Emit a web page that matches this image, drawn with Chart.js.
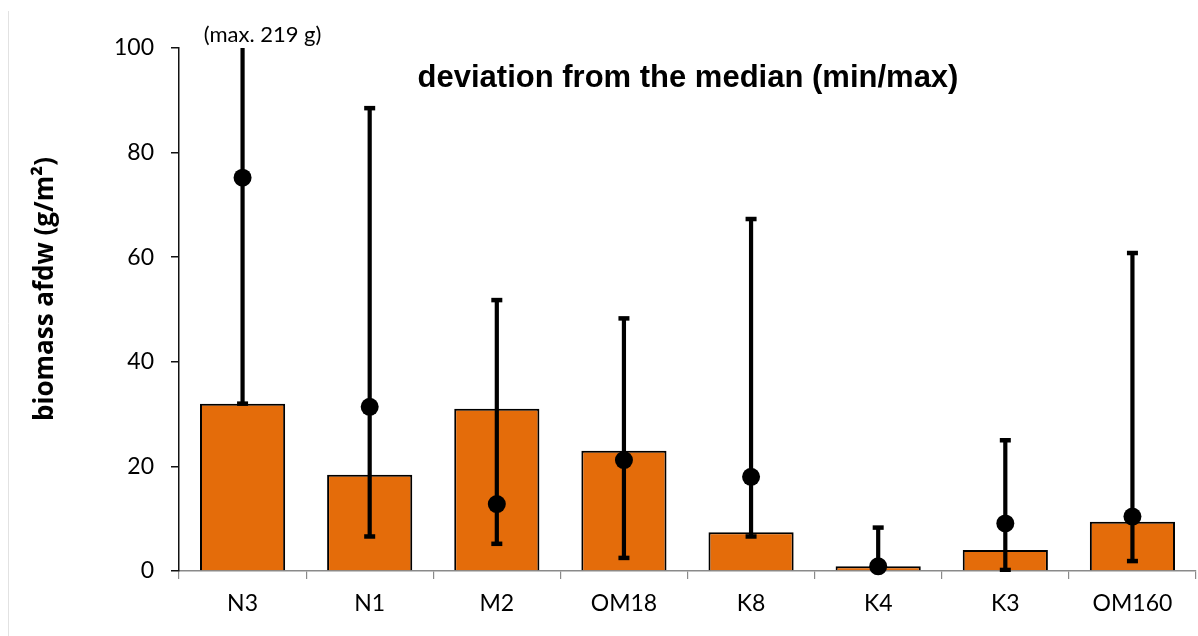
<!DOCTYPE html>
<html>
<head>
<meta charset="utf-8">
<script src="https://cdn.jsdelivr.net/npm/chart.js@4"></script>
<style>
  html, body { margin: 0; padding: 0; background: #fff; }
  #wrap { width: 1198px; height: 636px; position: relative; }
</style>
</head>
<body>
<div id="wrap"><canvas id="c" width="1198" height="636"></canvas></div>
<script>
// Sampling sites
const sites = ['N3', 'N1', 'M2', 'OM18', 'K8', 'K4', 'K3', 'OM160'];
// Mean biomass (bars), g/m²
const meanBiomass = [32, 18.4, 31, 23, 7.4, 0.9, 4.0, 9.4];
// Median biomass (dots), g/m²
const medianBiomass = [75.2, 31.4, 12.8, 21.2, 18.0, 0.9, 9.1, 10.4];
// Range of the samples around the median
const minBiomass = [32, 6.6, 5.2, 2.5, 6.6, 0.1, 0.2, 1.9];
const maxBiomass = [219, 88.5, 51.8, 48.3, 67.3, 8.3, 25.0, 60.8];
// Value axis ticks
const yTicks = [0, 20, 40, 60, 80, 100];

const TICK_FONT = { family: 'Lato', size: 23 };

// Vertical min/max whiskers drawn right after the bars, under the median dots
const whiskerPlugin = {
  id: 'whiskers',
  afterDatasetDraw(chart, args) {
    if (args.index !== 0) return;
    const { ctx, chartArea, scales: { x, y } } = chart;
    ctx.save();
    ctx.beginPath();
    ctx.rect(chartArea.left, chartArea.top - 1, chartArea.right - chartArea.left, chartArea.bottom - chartArea.top + 2);
    ctx.clip();
    ctx.strokeStyle = '#000';
    ctx.fillStyle = '#000';
    ctx.lineWidth = 4.2;
    sites.forEach((s, i) => {
      const cx = x.getPixelForValue(i);
      const yLo = y.getPixelForValue(minBiomass[i]);
      const yHi = y.getPixelForValue(maxBiomass[i]);
      ctx.beginPath();
      ctx.moveTo(cx, yLo);
      ctx.lineTo(cx, Math.max(yHi, chartArea.top));
      ctx.stroke();
      const capW = 11, capH = 4.5;
      ctx.fillRect(cx - capW / 2, yLo - capH / 2, capW, capH);
      if (maxBiomass[i] <= y.max) ctx.fillRect(cx - capW / 2, yHi - capH / 2, capW, capH);
    });
    ctx.restore();
  }
};

// Chart heading, note on the clipped whisker, rotated axis title
const textPlugin = {
  id: 'texts',
  afterDraw(chart) {
    const { ctx, scales: { x } } = chart;
    ctx.save();
    // faint frame line at the left edge
    ctx.strokeStyle = '#e2e2e2';
    ctx.lineWidth = 1;
    ctx.beginPath();
    ctx.moveTo(8.5, 11);
    ctx.lineTo(8.5, 636);
    ctx.stroke();

    ctx.fillStyle = '#000';
    ctx.textAlign = 'center';
    ctx.textBaseline = 'alphabetic';
    ctx.font = 'bold 31px "Liberation Sans", Arial, sans-serif';
    ctx.fillText('deviation from the median (min/max)', 688, 87);

    ctx.font = '22px Lato, sans-serif';
    ctx.fillText('(max. 219 g)', x.getPixelForValue(0) + 20, 42);

    ctx.translate(46, 289);
    ctx.rotate(-Math.PI / 2);
    ctx.textBaseline = 'middle';
    ctx.font = 'bold 26px "Open Sans", sans-serif';
    ctx.fillText('biomass afdw (g/m²)', 0, 0);
    ctx.restore();
  }
};

new Chart(document.getElementById('c'), {
  type: 'bar',
  data: {
    labels: sites,
    datasets: [
      {
        type: 'bar',
        label: 'mean',
        data: meanBiomass,
        backgroundColor: '#E46C0A',
        borderColor: '#000',
        borderWidth: 2,
        categoryPercentage: 1,
        barPercentage: 0.67,
        order: 3
      },
      {
        type: 'line',
        label: 'median',
        data: medianBiomass,
        showLine: false,
        pointRadius: 9,
        pointHoverRadius: 9,
        pointBackgroundColor: '#000',
        pointBorderColor: '#000',
        pointBorderWidth: 0,
        clip: 12,
        order: 1
      }
    ]
  },
  options: {
    responsive: false,
    animation: false,
    devicePixelRatio: 1,
    layout: { autoPadding: false, padding: { left: 0, top: 48, right: 2, bottom: 0 } },
    plugins: {
      legend: { display: false },
      tooltip: { enabled: false },
      title: { display: false }
    },
    scales: {
      x: {
        type: 'category',
        offset: true,
        grid: { display: true, drawOnChartArea: false, offset: true, tickLength: 8, color: '#8a8a8a', lineWidth: 1.2 },
        border: { display: true, color: '#8a8a8a', width: 1.5 },
        ticks: { color: '#000', font: TICK_FONT, padding: 11, maxRotation: 0 },
        afterFit(s) { s.height = 65; }
      },
      y: {
        type: 'linear',
        min: 0,
        max: 100,
        afterBuildTicks(s) { s.ticks = yTicks.map(v => ({ value: v })); },
        grid: { display: true, drawOnChartArea: false, tickLength: 8, color: '#111', lineWidth: 1.5 },
        border: { display: true, color: '#111', width: 1.5 },
        ticks: { color: '#000', font: TICK_FONT, padding: 17 },
        afterFit(s) { s.width = 179; }
      }
    }
  },
  plugins: [whiskerPlugin, textPlugin]
});
</script>
</body>
</html>
